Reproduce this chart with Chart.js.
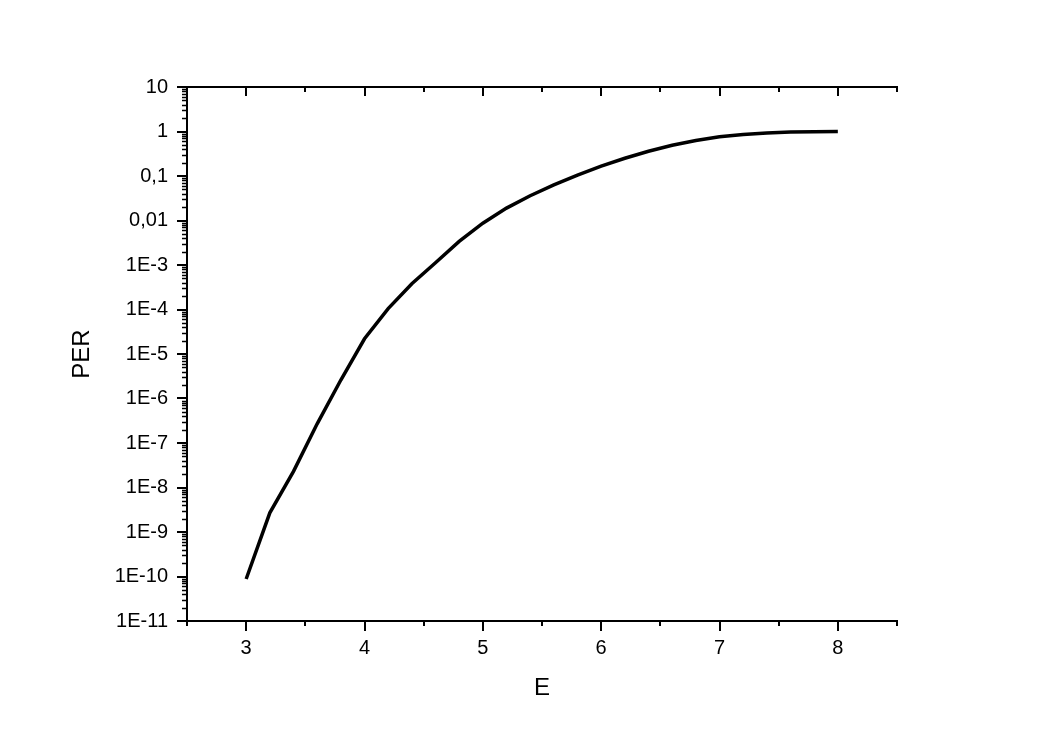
<!DOCTYPE html>
<html>
<head>
<meta charset="utf-8">
<script src="https://cdn.jsdelivr.net/npm/chart.js@4/dist/chart.umd.min.js"></script>
<style>
  body { margin: 0; background: #fff; }
  #wrap { width: 1042px; height: 742px; }
</style>
</head>
<body>
<div id="wrap"><canvas id="per"></canvas></div>
<script>
// values
const eValues = [3.0, 3.2, 3.4, 3.6, 3.8, 4.0, 4.2, 4.4, 4.6, 4.8, 5.0, 5.2, 5.4,
                 5.6, 5.8, 6.0, 6.2, 6.4, 6.6, 6.8, 7.0, 7.2, 7.4, 7.6, 7.8, 8.0];
const perValues = [8.8e-11, 2.7e-9, 2.3e-8, 2.7e-7, 2.6e-6, 2.2e-5, 1.05e-4, 3.8e-4, 1.12e-3,
                   3.4e-3, 8.7e-3, 0.019, 0.036, 0.063, 0.105, 0.166, 0.25, 0.36, 0.49,
                   0.63, 0.76, 0.86, 0.93, 0.97, 0.99, 1.0];
const xTicks = [3, 4, 5, 6, 7, 8];
const xMinorTicks = [2.5, 3.5, 4.5, 5.5, 6.5, 7.5, 8.5];
const yTicks = [10, 1, 0.1, 0.01, 1e-3, 1e-4, 1e-5, 1e-6, 1e-7, 1e-8, 1e-9, 1e-10, 1e-11];
const yTickLabels = ['10', '1', '0,1', '0,01', '1E-3', '1E-4', '1E-5', '1E-6', '1E-7',
                     '1E-8', '1E-9', '1E-10', '1E-11'];

const FONT = 'Liberation Sans, Arial, sans-serif';

// minor ticks and the top axis, drawn through the scales
const frame = {
    id: 'frame',
    afterDraw(chart) {
        const { ctx, chartArea: a, scales: { x, y } } = chart;
        ctx.save();
        ctx.strokeStyle = '#000';
        ctx.lineWidth = 2;
        ctx.beginPath();
        // top axis line
        ctx.moveTo(a.left - 1, a.top);
        ctx.lineTo(a.right + 1, a.top);
        // top ticks point inward
        xTicks.forEach(v => {
            const px = Math.round(x.getPixelForValue(v));
            ctx.moveTo(px, a.top); ctx.lineTo(px, a.top + 9);
        });
        xMinorTicks.forEach(v => {
            const px = Math.round(x.getPixelForValue(v));
            ctx.moveTo(px, a.top); ctx.lineTo(px, a.top + 5);
            ctx.moveTo(px, a.bottom); ctx.lineTo(px, a.bottom + 5);
        });
        ctx.stroke();
        // log minor ticks on the left
        ctx.lineWidth = 1.5;
        ctx.beginPath();
        for (let d = -11; d < 1; d++) {
            for (let k = 2; k <= 9; k++) {
                const py = Math.round(y.getPixelForValue(k * Math.pow(10, d))) + 0.5;
                ctx.moveTo(a.left - 5, py); ctx.lineTo(a.left, py);
            }
        }
        ctx.stroke();
        ctx.restore();
    }
};

new Chart(document.getElementById('per'), {
    type: 'line',
    data: {
        datasets: [{
            data: eValues.map((e, i) => ({ x: e, y: perValues[i] })),
            borderColor: '#000',
            borderWidth: 3.5,
            pointRadius: 0,
            tension: 0
        }]
    },
    options: {
        responsive: true,
        maintainAspectRatio: false,
        animation: false,
        layout: { padding: { top: 87, right: 145, left: 0, bottom: 0 } },
        plugins: { legend: { display: false }, tooltip: { enabled: false } },
        scales: {
            x: {
                type: 'linear',
                min: 2.5,
                max: 8.5,
                afterFit: s => { s.height = 121; },
                afterBuildTicks: s => { s.ticks = xTicks.map(v => ({ value: v })); },
                grid: { drawOnChartArea: false, tickLength: 10, color: '#000', lineWidth: 2 },
                border: { color: '#000', width: 2 },
                ticks: { color: '#000', font: { family: FONT, size: 20 }, padding: 5 },
                title: {
                    display: true, text: 'E', color: '#000',
                    font: { family: FONT, size: 24 }, padding: { top: 0, bottom: 39 }
                }
            },
            y: {
                type: 'logarithmic',
                min: 1e-11,
                max: 10,
                afterFit: s => { s.width = 187; },
                afterBuildTicks: s => { s.ticks = yTicks.map(v => ({ value: v })); },
                grid: { drawOnChartArea: false, tickLength: 10, color: '#000', lineWidth: 2 },
                border: { color: '#000', width: 2 },
                ticks: {
                    color: '#000', font: { family: FONT, size: 20 }, padding: 9,
                    callback: v => {
                        const i = yTicks.findIndex(t => Math.abs(Math.log10(t) - Math.log10(v)) < 1e-6);
                        return i >= 0 ? yTickLabels[i] : '';
                    }
                },
                title: {
                    display: true, text: 'PER', color: '#000',
                    font: { family: FONT, size: 24 }, padding: { top: 68, bottom: 0 }
                }
            }
        }
    },
    plugins: [frame]
});
</script>
</body>
</html>
